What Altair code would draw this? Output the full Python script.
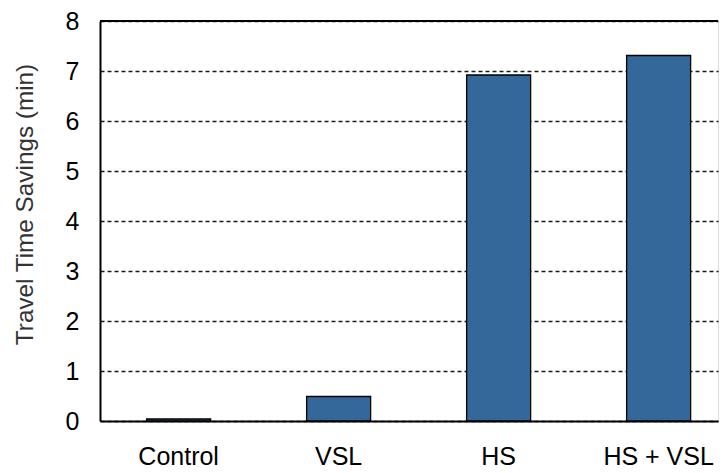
import altair as alt
import pandas as pd

categories = ["Control", "VSL", "HS", "HS + VSL"]
savings = [0.04, 0.49, 6.92, 7.31]
y_ticks = [0, 1, 2, 3, 4, 5, 6, 7, 8]

df = pd.DataFrame({"scenario": categories, "savings": savings})
W = 618
H = 400
FONT = "Liberation Sans"

bars = alt.Chart(df).mark_bar(
    color="#34679A", stroke="#000000", strokeWidth=1.3
).encode(
    x=alt.X("scenario:N", sort=categories,
            scale=alt.Scale(paddingInner=0.6, paddingOuter=0.23125, align=0.63),
            axis=alt.Axis(title=None, labelAngle=0, ticks=False, domainColor="#000000",
                          domainWidth=2, labelFont=FONT, labelFontSize=25,
                          labelColor="#000000", labelPadding=23)),
    y=alt.Y("savings:Q", scale=alt.Scale(domain=[0, 8], nice=False),
            axis=alt.Axis(title="Travel Time Savings (min)", values=y_ticks, ticks=False,
                          domainColor="#000000", domainWidth=2,
                          grid=True, gridColor="#1a1a1a", gridDash=[4, 3], gridWidth=1.3,
                          labelFont=FONT, labelFontSize=25, labelColor="#000000",
                          labelPadding=21, titleFont=FONT, titleFontSize=24.3,
                          titleFontWeight="normal", titleColor="#333333",
                          titlePadding=28, titleY=183)),
)

top_border = alt.Chart(alt.Data(values=[{"a": 1}])).mark_rule(
    color="#000000", strokeWidth=2
).encode(y=alt.value(0), x=alt.value(0), x2=alt.value(W))

chart = alt.layer(bars, top_border).properties(
    width=W, height=H,
    padding={"left": 5, "top": 1, "right": 0, "bottom": 0},
).configure_view(stroke=None).configure(background="white")

chart.save("out.html", embed_options={"renderer": "svg", "actions": False})
